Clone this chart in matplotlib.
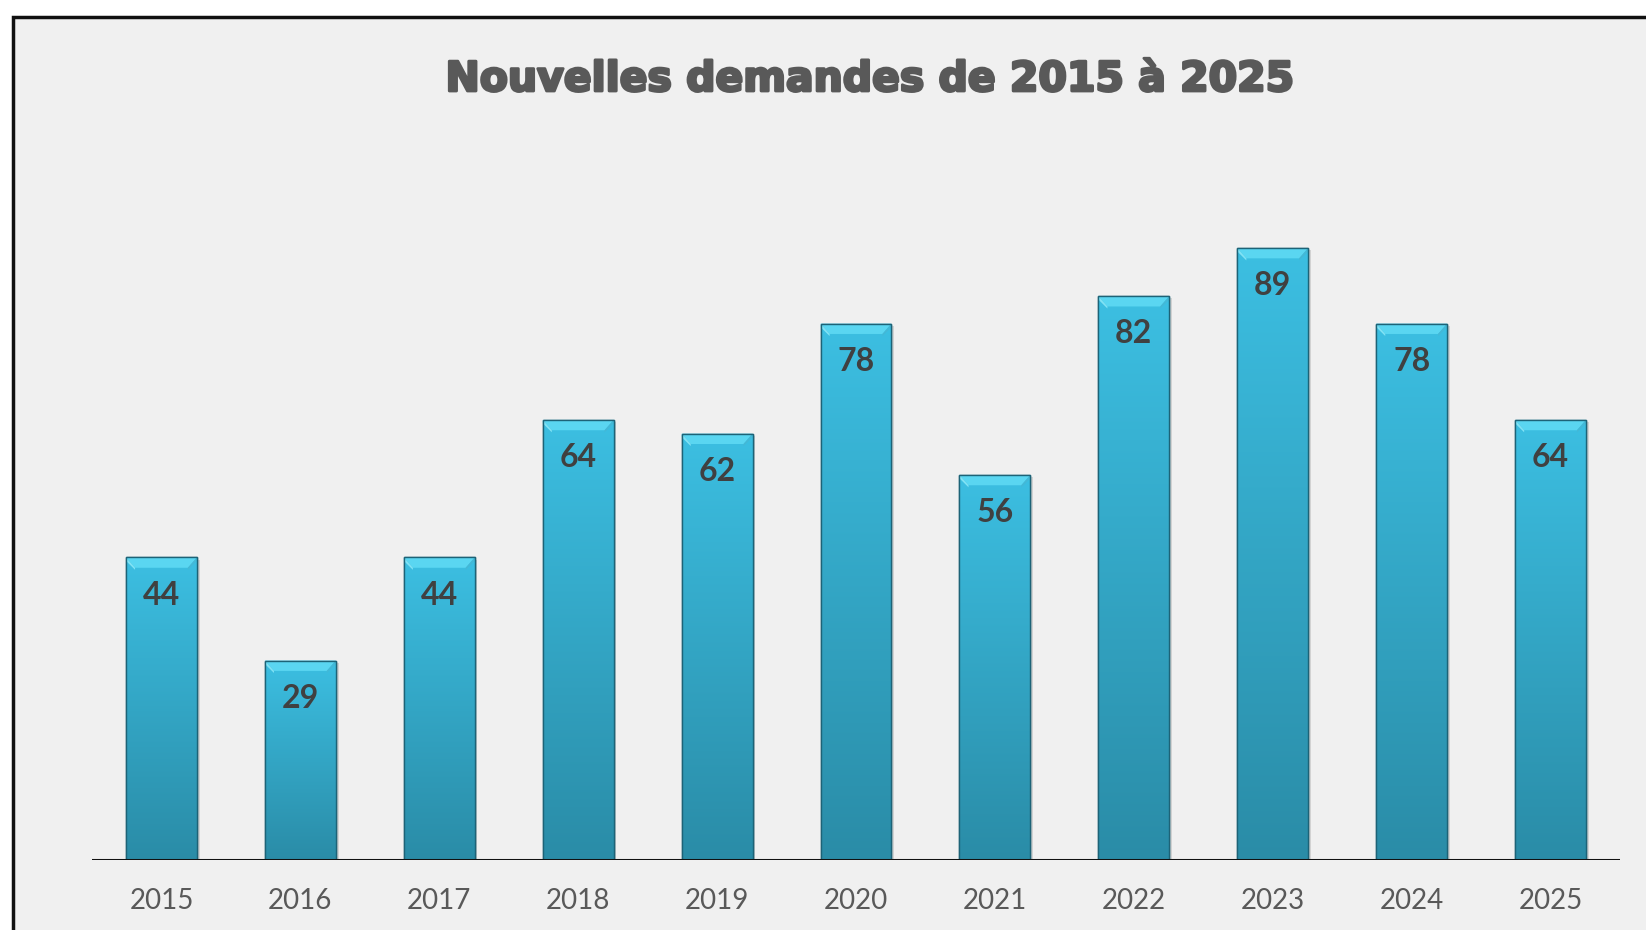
import numpy as np
import matplotlib.pyplot as plt
import matplotlib.patheffects as pe
from matplotlib.patches import Rectangle, Polygon
from matplotlib.colors import LinearSegmentedColormap

# Nouvelles demandes par année
years = ["2015", "2016", "2017", "2018", "2019", "2020",
         "2021", "2022", "2023", "2024", "2025"]
demandes = [44, 29, 44, 64, 62, 78, 56, 82, 89, 78, 64]

title = "Nouvelles demandes de 2015 à 2025"

fig = plt.figure(figsize=(16.46, 9.30), dpi=100)
fig.patch.set_facecolor("white")

# grey chart area with a black frame (runs past the right/bottom edge)
frame = Rectangle((13 / 1646, -0.05), 1.1, 1 - 17 / 930 + 0.05,
                  transform=fig.transFigure, facecolor="#f0f0f0",
                  edgecolor="#111111", linewidth=2.5, zorder=-1)
fig.patches.append(frame)

ax = fig.add_axes([92 / 1646, 70 / 930, 1528 / 1646, 687.6 / 930])
ax.set_facecolor("none")

bar_w = 0.51
grad = LinearSegmentedColormap.from_list("bar", ["#2a8ca7", "#3cbfe2"])
x = np.arange(len(years))

bars = ax.bar(x, demandes, width=bar_w, color="#35a9ca",
              edgecolor="#1d6377", linewidth=1.0, zorder=2)

bevel_h = 1.5  # depth of the light top face, in data units
inset = 0.065
for xi, v, b in zip(x, demandes, bars):
    left, right = xi - bar_w / 2, xi + bar_w / 2
    # soft drop shadow on the right side
    ax.add_patch(Rectangle((right, 0), 0.02, v - 0.3, facecolor="#000000",
                           alpha=0.12, linewidth=0, zorder=1.5))
    # vertical gradient clipped to the bar
    img = ax.imshow(np.linspace(0, 1, 256).reshape(-1, 1), cmap=grad,
                    origin="lower", aspect="auto",
                    extent=(left, right, 0, v), zorder=2.1)
    img.set_clip_path(b)
    # beveled top: light top face plus brighter left facet
    ax.add_patch(Polygon([(left, v), (right, v), (right - inset, v - bevel_h),
                          (left + inset, v - bevel_h)],
                         closed=True, facecolor="#5ad6f1", edgecolor="none",
                         zorder=2.2))
    ax.add_patch(Polygon([(left, v), (left + inset, v - bevel_h),
                          (left + inset, v - bevel_h - 0.3), (left, v - 0.5)],
                         closed=True, facecolor="#80e2f4", edgecolor="none",
                         zorder=2.2))
    ax.add_patch(Polygon([(right, v), (right - inset, v - bevel_h),
                          (right - inset, v - bevel_h - 0.3), (right, v - 0.5)],
                         closed=True, facecolor="#44b8d6", edgecolor="none",
                         zorder=2.2))
    ax.add_patch(Rectangle((left, 0), bar_w, v, facecolor="none",
                           edgecolor="#1d6377", linewidth=1.0, zorder=2.3))
    ax.text(xi, v - 5.5, str(v), ha="center", va="center",
            fontsize=23, fontweight="bold", family="Lato",
            color="#404040", zorder=3)

# imshow resets the limits, so fix them afterwards
ax.set_xlim(-0.5, len(years) - 0.5)
ax.set_ylim(0, 100)

ax.axhline(0, color="#111111", linewidth=2.2, zorder=4)

for s in ax.spines.values():
    s.set_visible(False)
ax.set_yticks([])
ax.set_xticks(x)
ax.set_xticklabels(years, fontsize=20, family="Lato", color="#595959")
ax.tick_params(axis="x", length=0, pad=20)

fig.text(871 / 1646, 1 - 80 / 930, title, ha="center", va="center",
         fontsize=29.5, fontweight="heavy", family="DejaVu Sans",
         color="#595959",
         path_effects=[pe.withStroke(linewidth=2, foreground="#595959")])

fig.savefig("out.png", dpi=100)
